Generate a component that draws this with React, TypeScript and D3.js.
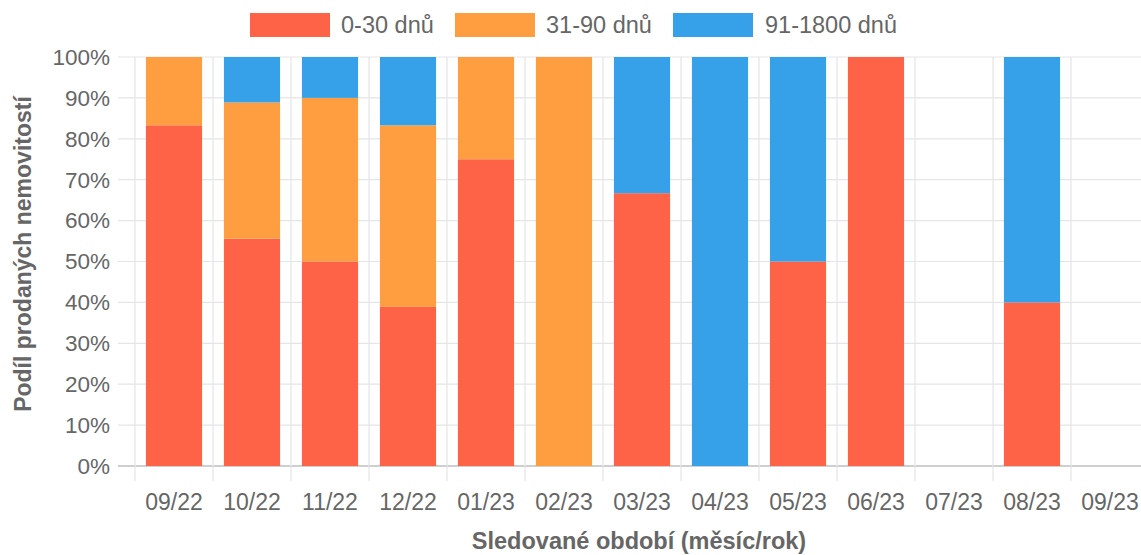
import React from "react";
import * as d3 from "d3";

const categories = ["09/22", "10/22", "11/22", "12/22", "01/23", "02/23", "03/23", "04/23", "05/23", "06/23", "07/23", "08/23", "09/23"];
const seriesNames = ["0-30 dnů", "31-90 dnů", "91-1800 dnů"];
const s0to30 = [83.3, 55.6, 50, 38.9, 75, 0, 66.7, 0, 50, 100, 0, 40, 0];
const s31to90 = [16.7, 33.3, 40, 44.4, 25, 100, 0, 0, 0, 0, 0, 0, 0];
const s91to1800 = [0, 11.1, 10, 16.7, 0, 0, 33.3, 100, 50, 0, 0, 60, 0];
const yTicks = [0, 10, 20, 30, 40, 50, 60, 70, 80, 90, 100];
const colors = ["#FE6347", "#FE9E40", "#36A1E9"];

const W = 1141;
const H = 555;
const FONT = "'Liberation Sans', Arial, sans-serif";

export default function App() {
  const left = 135;
  const right = 1149;
  const top = 57;
  const bottom = 466;

  const x = d3.scaleBand<string>().domain(categories).range([left, right]).paddingInner(0).paddingOuter(0);
  const y = d3.scaleLinear().domain([0, 100]).range([bottom, top]);
  const bw = x.bandwidth();
  const barW = bw * 0.72;

  const rows = categories.map((c, i) => ({ cat: c, a: s0to30[i], b: s31to90[i], c2: s91to1800[i] }));
  const stack = d3.stack<any>().keys(["a", "b", "c2"]);
  const stacked = stack(rows);

  const gridColor = "#e5e5e5";

  const legendItems = [
    { x: 250, tx: 341 },
    { x: 455, tx: 546 },
    { x: 673, tx: 765 },
  ];

  return (
    <svg width={W} height={H} style={{ position: "absolute", left: 0, top: 0, display: "block" }} fontFamily={FONT}>
      <rect x={0} y={0} width={W} height={H} fill="#fff" />
      {/* horizontal grid */}
      {yTicks.map((t) => (
        <line key={"h" + t} x1={118} x2={right} y1={y(t)} y2={y(t)} stroke={t === 0 ? "#bfbfbf" : gridColor} strokeWidth={t === 0 ? 1.5 : 1.2} />
      ))}
      {/* vertical grid */}
      {categories.map((c, i) => (
        <line key={"v" + i} x1={x(c)!} x2={x(c)!} y1={top} y2={bottom + 15} stroke={gridColor} strokeWidth={1.2} />
      ))}
      <line x1={right} x2={right} y1={top} y2={bottom + 15} stroke={gridColor} strokeWidth={1.2} />
      {/* bars */}
      {stacked.map((layer, si) => (
        <g key={"s" + si} fill={colors[si]}>
          {layer.map((d, i) => {
            const h = y(d[0]) - y(d[1]);
            if (h <= 0) return null;
            return (
              <rect key={i} x={x(categories[i])! + (bw - barW) / 2} y={y(d[1])} width={barW} height={h} />
            );
          })}
        </g>
      ))}
      {/* y tick labels */}
      {yTicks.map((t) => (
        <text key={"yl" + t} x={110} y={y(t)} dy="0.35em" textAnchor="end" fontSize={22.5} fill="#666">
          {t}%
        </text>
      ))}
      {/* x tick labels */}
      {categories.map((c) => (
        <text key={"xl" + c} x={x(c)! + bw / 2} y={510} textAnchor="middle" fontSize={23} fill="#666">
          {c}
        </text>
      ))}
      {/* axis titles */}
      <text x={639} y={549} textAnchor="middle" fontSize={23.5} fontWeight="bold" fill="#666">
        Sledované období (měsíc/rok)
      </text>
      <text transform={`translate(31,254) rotate(-90)`} textAnchor="middle" fontSize={23} fontWeight="bold" fill="#666">
        Podíl prodaných nemovitostí
      </text>
      {/* legend */}
      {legendItems.map((l, i) => (
        <g key={"lg" + i}>
          <rect x={l.x} y={13} width={80} height={24} fill={colors[i]} />
          <text x={l.tx} y={24.5} dy="0.35em" fontSize={23.5} fill="#666">
            {seriesNames[i]}
          </text>
        </g>
      ))}
    </svg>
  );
}
